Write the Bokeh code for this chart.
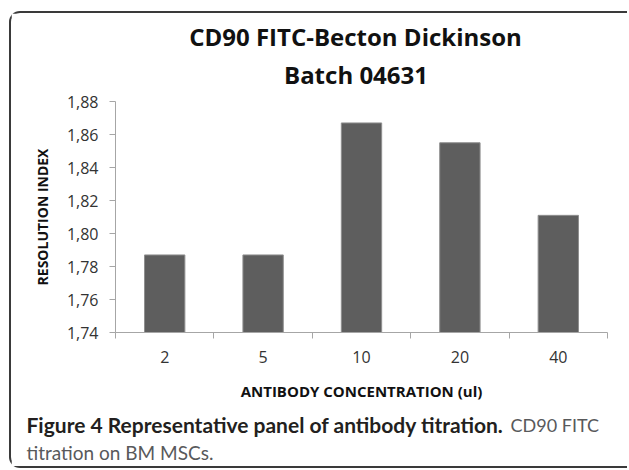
from bokeh.plotting import figure
from bokeh.models import Range1d, FixedTicker, LinearAxis, Label
from bokeh.embed import file_html
from bokeh.resources import INLINE

# ---- data ----
categories = ["2", "5", "10", "20", "40"]
resolution_index = [1.787, 1.787, 1.867, 1.855, 1.811]
y_ticks = [1.74, 1.76, 1.78, 1.80, 1.82, 1.84, 1.86, 1.88]
y_tick_labels = ["1,74", "1,76", "1,78", "1,80", "1,82", "1,84", "1,86", "1,88"]
title_lines = ["CD90 FITC-Becton Dickinson", "Batch 04631"]
y_title = "RESOLUTION INDEX"
x_title = "ANTIBODY CONCENTRATION (ul)"
caption_bold = "Figure 4 Representative panel of antibody titration."
caption_rest = "CD90 FITC"
caption_line2 = "titration on BM MSCs."

# ---- layout (canvas pixels) ----
W, H = 618, 457
FL, FR, FT, FB = 104, 596, 88, 319
N = len(categories)
Y0, Y1 = y_ticks[0], y_ticks[-1]


def px_x(cx):
    return (cx - FL) / (FR - FL) * N


def px_y(cy):
    return Y0 + (FB - cy) / (FB - FT) * (Y1 - Y0)


p = figure(width=W, height=H, output_backend="svg", toolbar_location=None,
           x_range=Range1d(0, N), y_range=Range1d(Y0, Y1),
           x_axis_type=None, y_axis_type=None,
           min_border_left=FL, min_border_right=W - FR,
           min_border_top=FT, min_border_bottom=H - FB)
p.outline_line_color = None
p.xgrid.visible = False
p.ygrid.visible = False
p.styles = {"margin-left": "9px", "margin-top": "11px",
            "border-left": "2px solid #3a3a3a", "border-top": "2px solid #3a3a3a",
            "border-bottom": "2px solid #3a3a3a",
            "border-top-left-radius": "11px", "border-bottom-left-radius": "11px"}

centers = [i + 0.5 for i in range(N)]
p.vbar(x=centers, top=resolution_index, bottom=Y0, width=0.41,
       fill_color="#5e5e5e", line_color="#8f8f8f", line_width=1)

AX = "#a6a6a6"
FONT = "Open Sans"

xaxis = LinearAxis(ticker=FixedTicker(ticks=centers, minor_ticks=list(range(N + 1))),
                   major_label_overrides={c: lab for c, lab in zip(centers, categories)})
xaxis.axis_line_color = AX
xaxis.major_tick_out = 0
xaxis.major_tick_in = 0
xaxis.minor_tick_out = 6
xaxis.minor_tick_in = 0
xaxis.minor_tick_line_color = AX
xaxis.major_label_standoff = 12
xaxis.major_label_text_font = FONT
xaxis.major_label_text_font_size = "16px"
xaxis.major_label_text_color = "#333333"
xaxis.axis_label = x_title
xaxis.axis_label_text_font = FONT
xaxis.axis_label_text_font_style = "bold"
xaxis.axis_label_text_font_size = "15px"
xaxis.axis_label_text_color = "#111111"
xaxis.axis_label_standoff = 15
p.add_layout(xaxis, "below")

yaxis = LinearAxis(ticker=FixedTicker(ticks=y_ticks, minor_ticks=[]),
                   major_label_overrides={t: lab for t, lab in zip(y_ticks, y_tick_labels)})
yaxis.axis_line_color = AX
yaxis.major_tick_line_color = AX
yaxis.major_tick_out = 6
yaxis.major_tick_in = 0
yaxis.major_label_standoff = 11
yaxis.major_label_text_font = FONT
yaxis.major_label_text_font_size = "16px"
yaxis.major_label_text_color = "#333333"
yaxis.axis_label = y_title
yaxis.axis_label_text_font = FONT
yaxis.axis_label_text_font_style = "bold"
yaxis.axis_label_text_font_size = "14px"
yaxis.axis_label_text_color = "#111111"
yaxis.axis_label_standoff = 12
p.add_layout(yaxis, "left")

SHIFT = 11  # measured offset of side-panel labels


def label(text, cx, cy, align, font, style, size, color):
    return Label(x=px_x(cx), y=px_y(cy - SHIFT), text=text, text_align=align,
                 text_baseline="alphabetic", text_font=font, text_font_style=style,
                 text_font_size=size, text_color=color)


# titles (placed in the top panel, positioned through the plot's scales)
p.add_layout(label(title_lines[1], 344.5, 72, "center", FONT, "bold", "24px", "#111111"), "above")
p.add_layout(label(title_lines[0], 344, 33.7, "center", FONT, "bold", "24px", "#111111"), "above")
p.add_layout(label(caption_rest, 499, 422, "left", "Lato", "normal", "18px", "#58595b"), "above")

# caption
p.add_layout(label(caption_bold, 15, 422, "left", "Lato", "bold", "21px", "#231f20"), "below")
p.add_layout(label(caption_line2, 15, 449.5, "left", "Lato", "normal", "19px", "#58595b"), "below")

open("out.html", "w").write(file_html(p, INLINE))
